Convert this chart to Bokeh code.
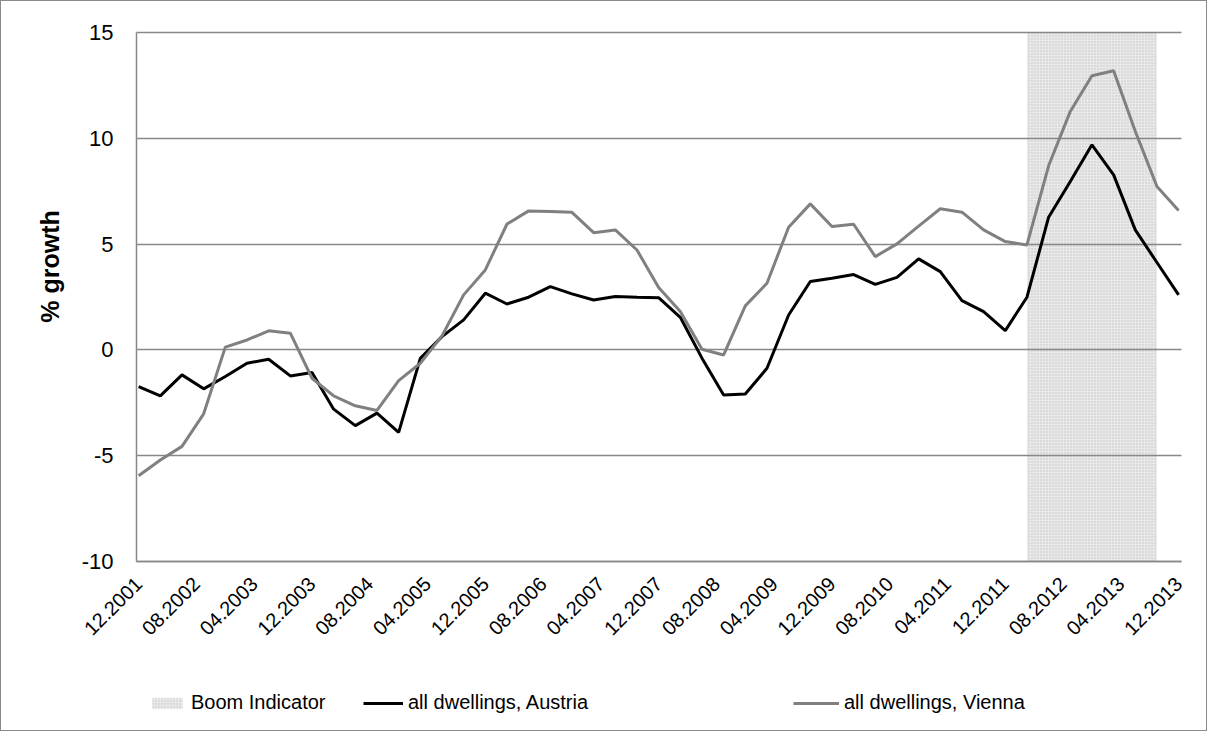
import math
from bokeh.plotting import figure
from bokeh.models import (FixedTicker, Legend, LegendItem, ColumnDataSource,
                          Range1d, Label)
from bokeh.embed import file_html
from bokeh.resources import INLINE

# ---------------- data ----------------
first_quarter = "12.2001"
n_quarters = 49  # quarterly observations 12.2001 .. 12.2013

austria = [-1.73, -2.17, -1.18, -1.84, -1.26, -0.63, -0.44, -1.23, -1.07, -2.80,
           -3.58, -2.99, -3.90, -0.40, 0.63, 1.42, 2.68, 2.17, 2.49, 2.99,
           2.65, 2.36, 2.52, 2.49, 2.47, 1.54, -0.39, -2.13, -2.08, -0.87,
           1.65, 3.23, 3.39, 3.56, 3.10, 3.43, 4.30, 3.70, 2.33, 1.81,
           0.91, 2.49, 6.27, 7.96, 9.69, 8.27, 5.67, 4.13, 2.60]

vienna = [-5.95, -5.20, -4.56, -3.02, 0.13, 0.47, 0.90, 0.79, -1.34, -2.17,
          -2.64, -2.86, -1.45, -0.63, 0.66, 2.60, 3.78, 5.95, 6.57, 6.54,
          6.50, 5.54, 5.67, 4.72, 2.95, 1.81, 0.03, -0.24, 2.08, 3.15,
          5.80, 6.90, 5.83, 5.94, 4.41, 5.01, 5.85, 6.67, 6.51, 5.67,
          5.12, 4.96, 8.70, 11.27, 12.96, 13.19, 10.33, 7.72, 6.59]

boom_period = ("03.2012", "09.2013")

x_tick_labels = ["12.2001", "08.2002", "04.2003", "12.2003", "08.2004", "04.2005",
                 "12.2005", "08.2006", "04.2007", "12.2007", "08.2008", "04.2009",
                 "12.2009", "08.2010", "04.2011", "12.2011", "08.2012", "04.2013",
                 "12.2013"]

y_ticks = [-10, -5, 0, 5, 10, 15]
y_min, y_max = -10, 15


def month_index(s):
    m, y = s.split(".")
    fm, fy = first_quarter.split(".")
    return (int(y) - int(fy)) * 12 + int(m) - int(fm)


start_m = month_index(first_quarter)
x_months = [start_m + 3 * i for i in range(n_quarters)]
tick_pos = [month_index(s) for s in x_tick_labels]

FONT = "Liberation Sans"
GRID = "#888888"

# ---------------- layout ----------------
# The frame fills the whole figure; the value band (the plot area proper)
# sits inside it, and both axes are pinned to the band's edges so that the
# rotated labels and the legend are not clipped.
FIG_W, FIG_H = 1205, 729
BAND_L, BAND_T, BAND_W, BAND_H = 135, 31, 1045, 529
X_LEFT, X_RIGHT = start_m - 0.3, tick_pos[-1] + 0.4

ppm = BAND_W / (X_RIGHT - X_LEFT)
x_start = X_LEFT - BAND_L / ppm
x_end = X_RIGHT + (FIG_W - BAND_L - BAND_W) / ppm
ppu = BAND_H / (y_max - y_min)
y_end = y_max + BAND_T / ppu
y_start = y_max - (FIG_H - BAND_T) / ppu

p = figure(frame_width=FIG_W, frame_height=FIG_H,
           output_backend="svg", toolbar_location=None,
           x_range=Range1d(x_start, x_end), y_range=Range1d(y_start, y_end),
           min_border_left=0, min_border_right=0, min_border_top=0,
           min_border_bottom=0)
p.styles = {"border": "1px solid #8a8a8a"}
p.outline_line_color = None
p.background_fill_color = "white"

# boom indicator shading
boom_src = ColumnDataSource(dict(left=[month_index(boom_period[0])],
                                 right=[month_index(boom_period[1])],
                                 bottom=[y_min], top=[y_max]))
boom_r = p.quad(left="left", right="right", bottom="bottom", top="top",
                source=boom_src, fill_color="#e9e9e9", line_color=None,
                hatch_pattern="dot", hatch_color="#c2c2c2", hatch_scale=3,
                hatch_weight=0.8, level="underlay")

# horizontal grid lines (restricted to the value band)
grid_done = False
try:
    p.ygrid.cross_bounds = (X_LEFT, X_RIGHT)
    p.ygrid.bounds = (y_min - 1, y_max + 1)
    p.ygrid.ticker = FixedTicker(ticks=y_ticks)
    p.ygrid.grid_line_color = GRID
    p.ygrid.grid_line_width = 1.5
    grid_done = True
except Exception:
    p.ygrid.grid_line_color = None
if not grid_done:
    p.segment(x0=[X_LEFT] * len(y_ticks), x1=[X_RIGHT] * len(y_ticks),
              y0=y_ticks, y1=y_ticks, line_color=GRID, line_width=1.5,
              level="underlay")
p.xgrid.grid_line_color = None

src = ColumnDataSource(dict(x=x_months, austria=austria, vienna=vienna))
aut_r = p.line("x", "austria", source=src, line_color="black", line_width=3)
vie_r = p.line("x", "vienna", source=src, line_color="#808080", line_width=3)

# x axis pinned at y = -10
p.xaxis.fixed_location = y_min
p.xaxis.bounds = (X_LEFT, X_RIGHT)
p.xaxis.ticker = FixedTicker(ticks=tick_pos)
p.xaxis.major_label_overrides = {t: s for t, s in zip(tick_pos, x_tick_labels)}
p.xaxis.major_label_orientation = math.pi / 4
p.xaxis.major_tick_line_color = None
p.xaxis.minor_tick_line_color = None
p.xaxis.axis_line_color = GRID
p.xaxis.axis_line_width = 1.5
p.xaxis.major_label_text_font = FONT
p.xaxis.major_label_text_font_size = "20px"
p.xaxis.major_label_text_color = "black"
p.xaxis.major_label_standoff = 13

# y axis pinned at the left edge of the band
p.yaxis.fixed_location = X_LEFT
p.yaxis.bounds = (y_min, y_max)
p.yaxis.ticker = FixedTicker(ticks=y_ticks)
p.yaxis.major_label_overrides = {t: str(t) for t in y_ticks}
p.yaxis.major_tick_line_color = None
p.yaxis.minor_tick_line_color = None
p.yaxis.axis_line_color = GRID
p.yaxis.axis_line_width = 1.5
p.yaxis.major_label_text_font = FONT
p.yaxis.major_label_text_font_size = "22px"
p.yaxis.major_label_text_color = "black"
p.yaxis.major_label_standoff = 17

# y axis title (placed as in the reference, slightly above the band centre)
p.add_layout(Label(x=48, y=FIG_H - 265, x_units="screen", y_units="screen",
                   text="% growth", angle=math.pi / 2,
                   text_align="center", text_baseline="middle",
                   text_font=FONT, text_font_style="bold",
                   text_font_size="25px", text_color="black"))

# legends (three separate blocks, positioned like the reference)
def make_legend(label, r, x, gw):
    return Legend(items=[LegendItem(label=label, renderers=[r])],
                  location=(x, 16), orientation="horizontal",
                  label_text_font=FONT, label_text_font_size="20px",
                  label_text_color="black",
                  glyph_width=gw, glyph_height=14, label_standoff=5,
                  padding=0, margin=0, border_line_color=None,
                  background_fill_alpha=0)

p.add_layout(make_legend("Boom Indicator", boom_r, BAND_L + 12, 38))
p.add_layout(make_legend("all dwellings, Austria", aut_r, BAND_L + 227, 40))
p.add_layout(make_legend("all dwellings, Vienna", vie_r, BAND_L + 657, 46))

open("out.html", "w").write(file_html(p, INLINE))
